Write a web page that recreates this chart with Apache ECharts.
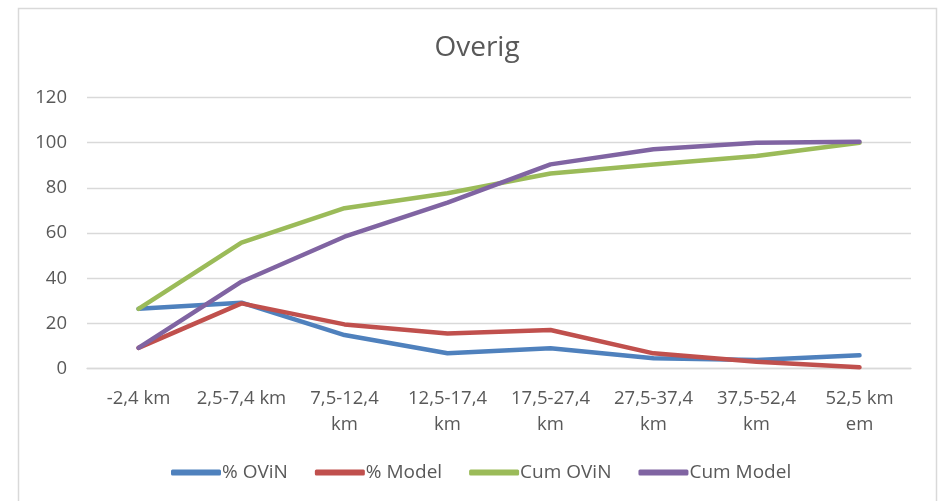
<!DOCTYPE html>
<html>
<head>
<meta charset="utf-8">
<script src="https://cdn.jsdelivr.net/npm/echarts@6/dist/echarts.min.js"></script>
<style>
html,body{margin:0;padding:0;background:#fff;}
#chart{width:938px;height:501px;}
</style>
</head>
<body>
<div id="chart"></div>
<script>
const categories = ["-2,4 km", "2,5-7,4 km", "7,5-12,4\nkm", "12,5-17,4\nkm", "17,5-27,4\nkm", "27,5-37,4\nkm", "37,5-52,4\nkm", "52,5 km\nem"];
const pctOViN = [26.5, 29.2, 14.9, 6.8, 9.0, 4.6, 3.8, 5.9];
const pctModel = [9.2, 28.9, 19.6, 15.6, 17.1, 6.8, 3.1, 0.6];
const cumOViN = [26.5, 55.8, 71.0, 77.6, 86.4, 90.4, 94.1, 100];
const cumModel = [9.2, 38.5, 58.4, 73.5, 90.4, 97.1, 100, 100.4];
const seriesNames = ["% OViN", "% Model", "Cum OViN", "Cum Model"];
const yTicks = { min: 0, max: 120, interval: 20 };

const FONT = '"Open Sans", "Liberation Sans", sans-serif';
const TXT = '#595959';
const colors = ['#4f81bd', '#c0504d', '#9bbb59', '#8064a2'];
const dataSets = [pctOViN, pctModel, cumOViN, cumModel];

const chart = echarts.init(document.getElementById('chart'), null, { renderer: 'canvas' });
chart.setOption({
  animation: false,
  backgroundColor: '#ffffff',
  graphic: [{
    type: 'rect',
    shape: { x: 18.5, y: 8.5, width: 918, height: 500 },
    style: { fill: 'none', stroke: '#d9d9d9', lineWidth: 1.5 },
    silent: true
  }],
  title: {
    text: 'Overig',
    left: 472,
    textAlign: 'center',
    top: 29,
    textStyle: { fontFamily: FONT, fontSize: 28, fontWeight: 'normal', color: TXT }
  },
  legend: {
    data: seriesNames,
    left: 166,
    top: 458,
    itemWidth: 50,
    itemHeight: 6,
    itemGap: 27,
    icon: 'roundRect',
    textStyle: { fontFamily: FONT, fontSize: 19, color: TXT, padding: [0, 0, 0, -4] }
  },
  grid: { left: 87, right: 27, top: 97.5, bottom: 132.3, containLabel: false },
  xAxis: {
    type: 'category',
    data: categories,
    boundaryGap: true,
    axisLine: { show: true, lineStyle: { color: '#d9d9d9', width: 1.3 } },
    axisTick: { show: false },
    axisLabel: {
      interval: 0,
      fontFamily: FONT, fontSize: 18.5, color: TXT,
      lineHeight: 26, margin: 17, align: 'center'
    },
    splitLine: { show: false }
  },
  yAxis: {
    type: 'value',
    min: yTicks.min, max: yTicks.max, interval: yTicks.interval,
    axisLine: { show: false },
    axisTick: { show: false },
    axisLabel: { fontFamily: FONT, fontSize: 18.5, color: TXT, margin: 20 },
    splitLine: { lineStyle: { color: '#d9d9d9', width: 1.3 } }
  },
  series: seriesNames.map((n, i) => ({
    name: n,
    type: 'line',
    data: dataSets[i],
    showSymbol: false,
    symbol: 'none',
    color: colors[i],
    lineStyle: { color: colors[i], width: 4.5, cap: 'round', join: 'round' },
    itemStyle: { color: colors[i] },
    z: 2 + i
  }))
});
</script>
</body>
</html>
